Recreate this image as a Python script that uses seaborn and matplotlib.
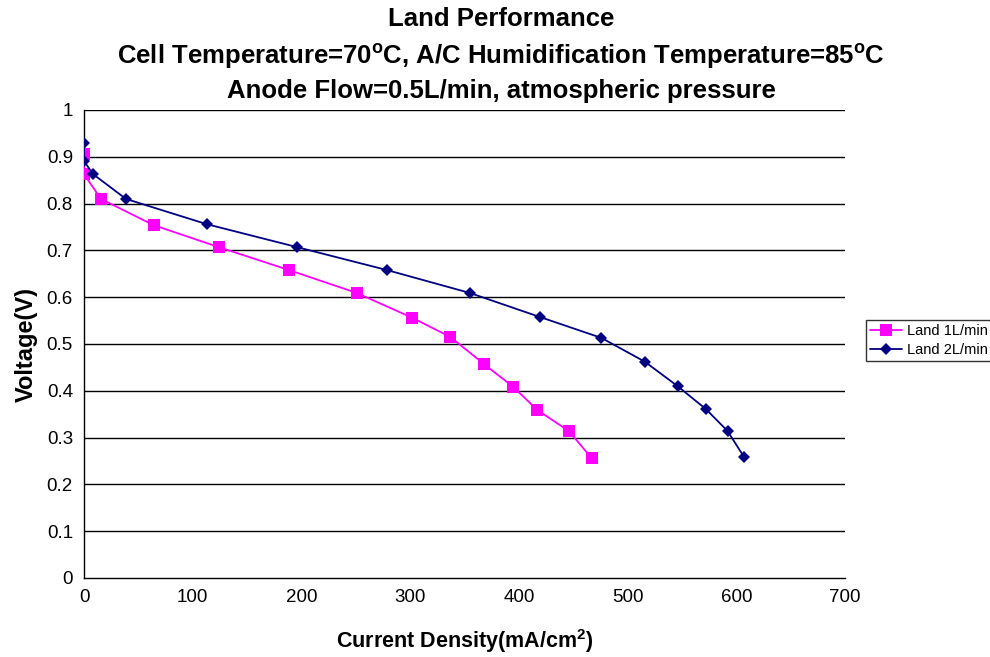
import matplotlib
matplotlib.use("Agg")
import matplotlib.pyplot as plt
import seaborn as sns
import pandas as pd

# data
land1_x = [0, 0, 15.6, 64, 124, 188.6, 251, 302, 337, 368, 395, 417, 446, 467]
land1_y = [0.906, 0.863, 0.810, 0.754, 0.707, 0.658, 0.609, 0.556, 0.515, 0.457, 0.408, 0.359, 0.314, 0.256]
land2_x = [0, 0, 8.3, 38.6, 113, 196, 278.7, 355, 419, 476, 516, 546, 572, 592, 607]
land2_y = [0.929, 0.891, 0.863, 0.810, 0.756, 0.707, 0.658, 0.609, 0.558, 0.513, 0.462, 0.410, 0.361, 0.314, 0.259]
series_names = ["Land 1L/min", "Land 2L/min"]
x_ticks = [0, 100, 200, 300, 400, 500, 600, 700]
y_ticks = [0, 0.1, 0.2, 0.3, 0.4, 0.5, 0.6, 0.7, 0.8, 0.9, 1]

sns.set_style("white")
plt.rcParams['font.family'] = ['Liberation Sans', 'DejaVu Sans']
plt.rcParams['mathtext.fontset'] = 'custom'
plt.rcParams['mathtext.rm'] = 'Liberation Sans'
plt.rcParams['mathtext.bf'] = 'Liberation Sans:bold'
plt.rcParams['mathtext.it'] = 'Liberation Sans:italic'
plt.rcParams['text.color'] = 'black'
plt.rcParams['axes.labelcolor'] = 'black'
plt.rcParams['xtick.color'] = 'black'
plt.rcParams['ytick.color'] = 'black'

fig = plt.figure(figsize=(9.9, 6.57), dpi=100)
ax = fig.add_axes([84/990, 1-578/657, (845-84)/990, (578-110)/657])

df1 = pd.DataFrame({"x": land1_x, "y": land1_y})
df2 = pd.DataFrame({"x": land2_x, "y": land2_y})

for y in y_ticks[1:]:
    ax.axhline(y, color="black", lw=1.0, zorder=1)

sns.lineplot(data=df1, x="x", y="y", sort=False, estimator=None, ax=ax, color="#FF00FF", lw=1.3,
             marker="s", markersize=8, markeredgewidth=0, label=series_names[0], zorder=3)
sns.lineplot(data=df2, x="x", y="y", sort=False, estimator=None, ax=ax, color="#000080", lw=1.3,
             marker="D", markersize=6, markeredgewidth=0, label=series_names[1], zorder=3)

ax.set_xlim(0, 700)
ax.set_ylim(0, 1)
ax.set_xticks(x_ticks)
ax.set_yticks(y_ticks)
ax.set_xticklabels([str(v) for v in x_ticks], fontsize=13.5)
ax.set_yticklabels([("%g" % v) for v in y_ticks], fontsize=13.5)
ax.tick_params(axis="both", direction="out", length=5, width=1, color="black", labelcolor="black", pad=3)
for s in ["top", "right"]:
    ax.spines[s].set_visible(False)
for s in ["left", "bottom"]:
    ax.spines[s].set_color("black")
    ax.spines[s].set_linewidth(1.0)

ax.set_xlabel(r"Current Density(mA/cm$^\mathbf{2}$)", fontsize=15.5, fontweight="bold", labelpad=15, color="black")
ax.set_ylabel("Voltage(V)", fontsize=17, fontweight="bold", labelpad=6, color="black")

fig.text(0.506, 1-19/657, "Land Performance", ha="center", va="center", fontsize=18.5, fontweight="bold", color="black")
fig.text(0.506, 1-57/657, r"Cell Temperature=70$^\mathbf{o}$C, A/C Humidification Temperature=85$^\mathbf{o}$C",
         ha="center", va="center", fontsize=18.5, fontweight="bold", color="black")
fig.text(0.506, 1-91/657, "Anode Flow=0.5L/min, atmospheric pressure", ha="center", va="center",
         fontsize=18.5, fontweight="bold", color="black")

leg = ax.legend(loc="upper left", bbox_to_anchor=(866/990, 1-320/657), bbox_transform=fig.transFigure,
                frameon=True, fancybox=False, fontsize=10.5, handlelength=2.2, borderpad=0.3,
                labelspacing=0.3, handletextpad=0.3, borderaxespad=0)
leg.get_frame().set_edgecolor("black")
leg.get_frame().set_linewidth(1.0)
for t in leg.get_texts():
    t.set_color("black")

fig.savefig("out.png", dpi=100)
